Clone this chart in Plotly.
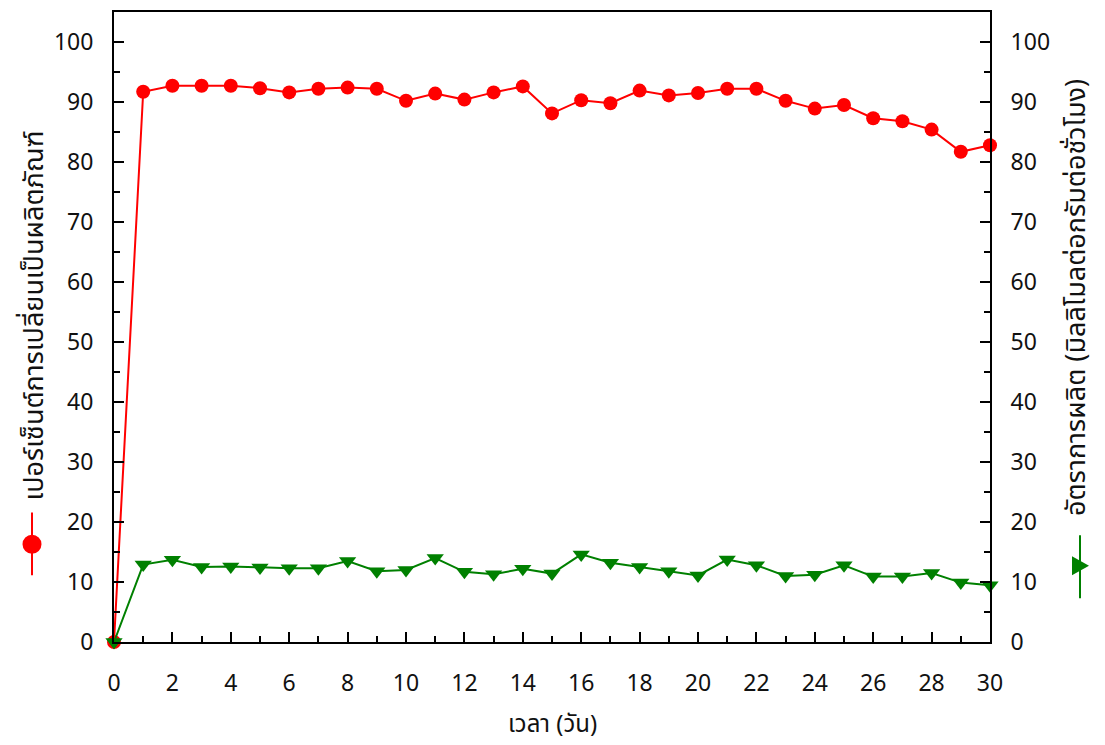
import plotly.graph_objects as go

days = list(range(0, 31))
conversion = [0, 91.7, 92.7, 92.7, 92.7, 92.3, 91.6, 92.2, 92.4, 92.2, 90.2,
              91.4, 90.4, 91.6, 92.6, 88.1, 90.3, 89.8, 91.9, 91.1, 91.5,
              92.2, 92.2, 90.2, 88.9, 89.5, 87.3, 86.8, 85.4, 81.7, 82.8]
rate = [0, 12.9, 13.7, 12.5, 12.6, 12.4, 12.3, 12.3, 13.5, 11.8, 12.0,
        14.0, 11.7, 11.3, 12.2, 11.4, 14.6, 13.2, 12.5, 11.8, 11.1,
        13.75, 12.8, 11.0, 11.2, 12.8, 10.9, 10.9, 11.5, 9.9, 9.45]

x_title = "เวลา (วัน)"
y_title = "เปอร์เซ็นต์การเปลี่ยนเป็นผลิตภัณฑ์"
y2_title = "อัตราการผลิต (มิลลิโมลต่อกรัมต่อชั่วโมง)"

RED = "#ff0000"
GREEN = "#008000"
FONT = "Tahoma, 'Noto Sans Thai', 'Open Sans', 'DejaVu Sans', sans-serif"

W, H = 1105, 745
L, R, T, B = 114, 115, 10, 103
PW, PH = W - L - R, H - T - B


def px(xp):
    return (xp - L) / PW


def py(yp):
    return (H - B - yp) / PH


fig = go.Figure()
fig.add_trace(go.Scatter(x=days, y=conversion, mode="lines+markers",
                         line=dict(color=RED, width=2),
                         marker=dict(symbol="circle", size=14, color=RED),
                         cliponaxis=False, showlegend=False))
fig.add_trace(go.Scatter(x=days, y=rate, mode="lines+markers", yaxis="y2",
                         line=dict(color=GREEN, width=2),
                         marker=dict(symbol="triangle-down", size=15, color=GREEN),
                         cliponaxis=False, showlegend=False))

tickfont = dict(family=FONT, size=23, color="#111111")
common_y = dict(range=[0, 105], dtick=10, tick0=0, ticks="inside", ticklen=10,
                tickwidth=2, tickcolor="black", showline=True, linecolor="black",
                linewidth=2, showgrid=False, zeroline=False, tickfont=tickfont,
                ticklabelstandoff=14,
                minor=dict(dtick=5, ticks="inside", ticklen=6, tickwidth=2,
                           tickcolor="black", showgrid=False))

fig.update_layout(
    width=W, height=H,
    margin=dict(l=L, r=R, t=T, b=B),
    plot_bgcolor="white", paper_bgcolor="white",
    xaxis=dict(range=[0, 30], dtick=2, tick0=0, ticks="inside", ticklen=10,
               tickwidth=2, tickcolor="black", showline=True, linecolor="black",
               linewidth=2, mirror=True, showgrid=False, zeroline=False,
               tickfont=tickfont, ticklabelstandoff=19,
               minor=dict(dtick=1, ticks="inside", ticklen=6, tickwidth=2,
                          tickcolor="black", showgrid=False)),
    yaxis=dict(**common_y),
    yaxis2=dict(overlaying="y", side="right", **common_y),
)

title_font = dict(family=FONT, size=27, color="#111111")
fig.add_annotation(text=x_title, xref="paper", yref="paper", x=0.5, y=py(725),
                   xanchor="center", yanchor="middle", showarrow=False,
                   font=dict(family=FONT, size=24, color="#111111"))
fig.add_annotation(text=y_title, xref="paper", yref="paper", x=px(34), y=py(502),
                   xanchor="center", yanchor="bottom", textangle=-90,
                   showarrow=False, font=title_font)
fig.add_annotation(text=y2_title, xref="paper", yref="paper", x=px(1077), y=py(518),
                   xanchor="center", yanchor="bottom", textangle=-90,
                   showarrow=False, font=title_font)

# legend keys (rotated, beside the axis titles)
fig.add_shape(type="line", xref="paper", yref="paper", x0=px(32), x1=px(32),
              y0=py(512), y1=py(575), line=dict(color=RED, width=2))
fig.add_shape(type="circle", xref="paper", yref="paper", x0=px(22.5), x1=px(41.5),
              y0=py(534.5), y1=py(553.5), fillcolor=RED, line=dict(color=RED, width=0))
fig.add_shape(type="line", xref="paper", yref="paper", x0=px(1080), x1=px(1080),
              y0=py(535), y1=py(598), line=dict(color=GREEN, width=2))
tri = "M {a},{b} L {c},{d} L {e},{f} Z".format(
    a=px(1072), b=py(556), c=px(1072), d=py(575), e=px(1089), f=py(565.5))
fig.add_shape(type="path", xref="paper", yref="paper", path=tri,
              fillcolor=GREEN, line=dict(color=GREEN, width=0))

fig.write_html("out.html")
